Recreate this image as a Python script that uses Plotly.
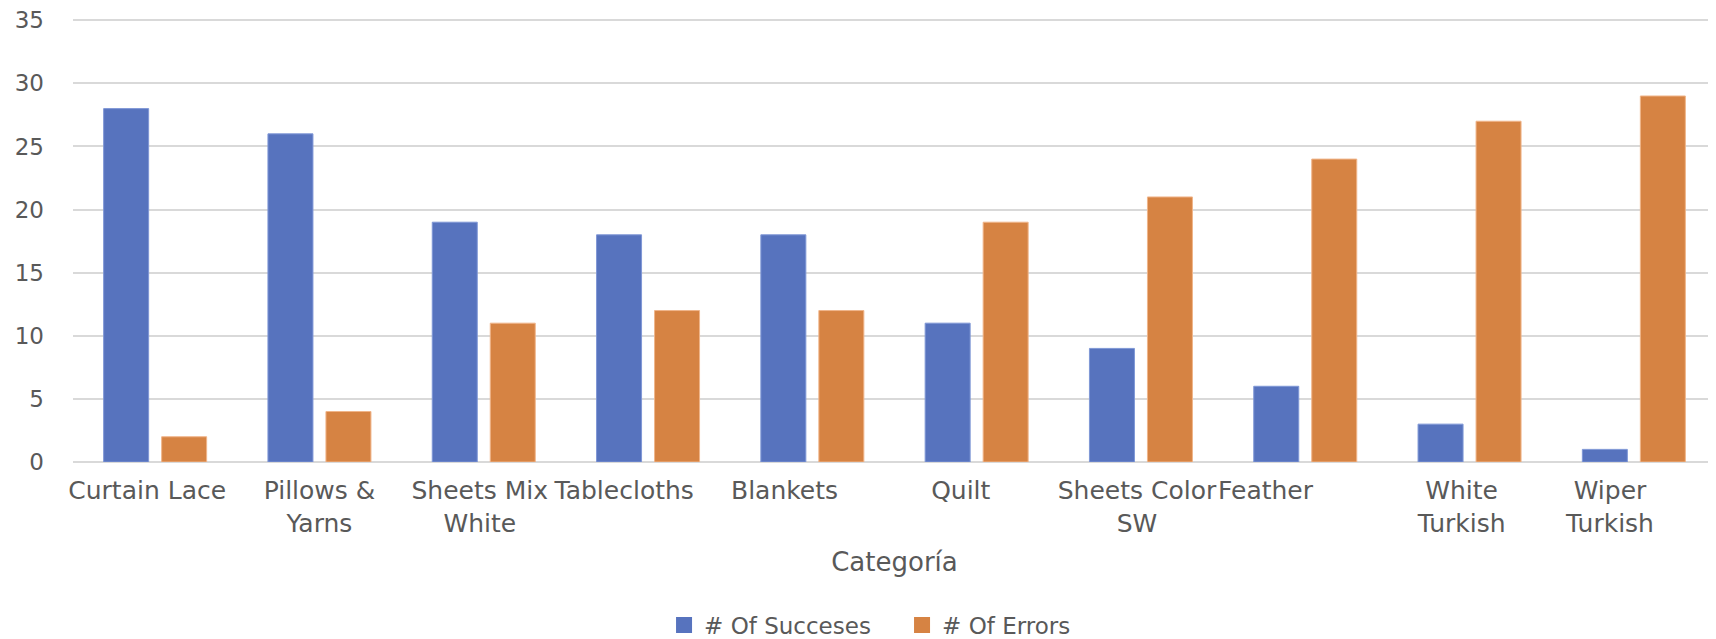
import plotly.graph_objects as go

NB = "\u00a0"
categories = ["Curtain Lace", "Pillows &<br>Yarns", "Sheets Mix<br>White", "Tablecloths",
              "Blankets", "Quilt", "Sheets Color<br>SW", "Feather", "White<br>Turkish",
              "Wiper<br>Turkish"]
# trailing padding (non-breaking spaces) reproducing the reference's label offsets
label_pad = [2, 0, 1, 6, 7, 4, 1, 10, 2, 6]
successes = [28, 26, 19, 18, 18, 11, 9, 6, 3, 1]
errors = [2, 4, 11, 12, 12, 19, 21, 24, 27, 29]
y_ticks = [0, 5, 10, 15, 20, 25, 30, 35]

tick_text = ["<br>".join(line + NB * p for line in c.split("<br>"))
             for c, p in zip(categories, label_pad)]

BLUE = "#5773BE"
ORANGE = "#D68343"
GREY = "#595959"
FONT = "DejaVu Sans"

fig = go.Figure()
fig.add_trace(go.Bar(name="# Of Succeses", x=categories, y=successes,
                     marker=dict(color=BLUE, line=dict(color="#7F97D6", width=1)),
                     showlegend=False))
fig.add_trace(go.Bar(name="# Of Errors", x=categories, y=errors,
                     marker=dict(color=ORANGE, line=dict(color="#F0B58A", width=1)),
                     showlegend=False))
# legend entries with larger square symbols
fig.add_trace(go.Scatter(name="# Of Succeses", x=[None], y=[None], mode="markers",
                         marker=dict(symbol="square", size=19, color=BLUE)))
fig.add_trace(go.Scatter(name="# Of Errors", x=[None], y=[None], mode="markers",
                         marker=dict(symbol="square", size=19, color=ORANGE)))

fig.update_layout(
    width=1708, height=631,
    margin=dict(l=65, r=0, t=11, b=177),
    paper_bgcolor="white", plot_bgcolor="white",
    font=dict(family=FONT, size=22, color=GREY),
    barmode="group", bargap=0.294, bargroupgap=0.224,
    legend=dict(orientation="h", xref="container", yref="container",
                x=0.3841, xanchor="left", y=0.022, yanchor="middle",
                font=dict(family=FONT, size=23, color=GREY), itemwidth=30,
                entrywidth=193, tracegroupgap=0),
    xaxis=dict(
        title=dict(text="Categoría", font=dict(family=FONT, size=26, color=GREY), standoff=16),
        tickfont=dict(family=FONT, size=25, color=GREY),
        tickmode="array", tickvals=categories, ticktext=tick_text, tickangle=0,
        showgrid=False, showline=False, zeroline=False,
        ticklabelstandoff=11, automargin=False,
    ),
    yaxis=dict(
        range=[0, 35.1], tickvals=y_ticks, ticktext=[str(v) for v in y_ticks],
        tickfont=dict(family=FONT, size=23, color=GREY),
        showgrid=True, gridcolor="#D9D9D9", gridwidth=1.5,
        zeroline=True, zerolinecolor="#D9D9D9", zerolinewidth=2,
        showline=False, ticklabelstandoff=28, automargin=False,
        ticklabeloverflow="allow",
    ),
)

fig.write_html("out.html")
